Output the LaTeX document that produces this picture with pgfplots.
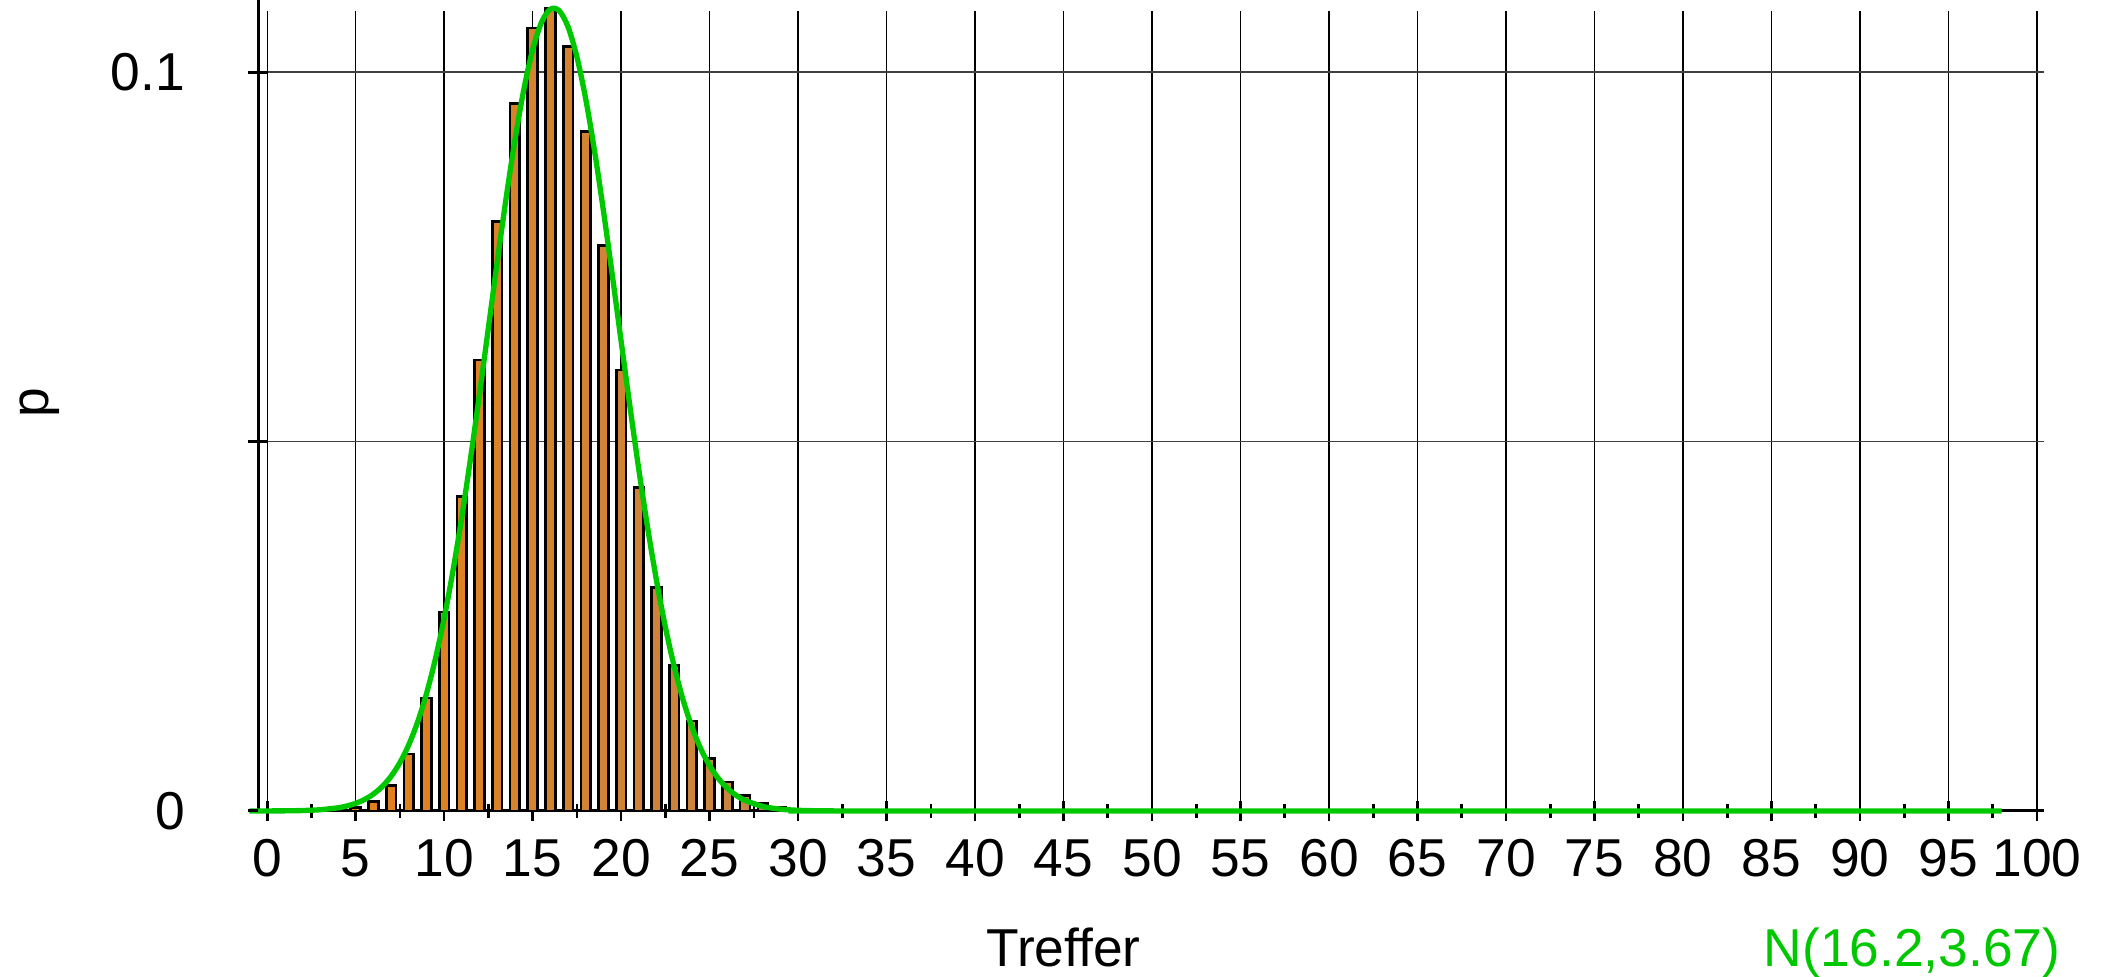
\documentclass[border=0pt]{standalone}
\usepackage{fontspec}
\setmainfont{Liberation Sans}
\usepackage{pgfplots}
\pgfplotsset{compat=1.18}
\definecolor{cA}{RGB}{228,128,26}
\definecolor{cB}{RGB}{196,133,70}
\definecolor{gr}{RGB}{0,200,0}
\begin{document}
\begin{tikzpicture}
\useasboundingbox (-77.5pt,-49.8pt) rectangle (554.0pt,243.3pt);
\begin{axis}[
  at={(0pt,0pt)}, anchor=south west,
  scale only axis, width=535.7pt, height=240pt,
  xmin=-0.5, xmax=100.4, ymin=0, ymax=0.1083,
  axis lines*=left,
  axis line style={line width=0.9pt, black},
  clip=false,
  font=\fontsize{16}{19}\selectfont,
  /pgf/number format/assume math mode=true,
  xtick={0,5,...,100},
  minor xtick={2.5,7.5,...,97.5},
  ytick={0,0.05,0.1},
  yticklabels={0,,0.1},
  tick align=center,
  major tick length=6pt,
  minor tick length=4pt,
  tick style={black, line width=0.8pt},
  xmajorgrids, ymajorgrids,
  x grid style={black, line width=0.4pt},
  y grid style={black!75, line width=0.5pt},
  xticklabel style={yshift=-2pt},
  yticklabel style={xshift=-15.5pt},
]
\addplot[ybar, bar shift=0pt, bar width=0.55, draw=black, line width=0.8pt, fill=cB!0!cA] coordinates {(5,0.00043107)};
\addplot[ybar, bar shift=0pt, bar width=0.55, draw=black, line width=0.8pt, fill=cB!4!cA] coordinates {(6,0.00132195)};
\addplot[ybar, bar shift=0pt, bar width=0.55, draw=black, line width=0.8pt, fill=cB!8!cA] coordinates {(7,0.00343707)};
\addplot[ybar, bar shift=0pt, bar width=0.55, draw=black, line width=0.8pt, fill=cB!12!cA] coordinates {(8,0.0077334)};
\addplot[ybar, bar shift=0pt, bar width=0.55, draw=black, line width=0.8pt, fill=cB!16!cA] coordinates {(9,0.0152950)};
\addplot[ybar, bar shift=0pt, bar width=0.55, draw=black, line width=0.8pt, fill=cB!20!cA] coordinates {(10,0.0269192)};
\addplot[ybar, bar shift=0pt, bar width=0.55, draw=black, line width=0.8pt, fill=cB!24!cA] coordinates {(11,0.0425813)};
\addplot[ybar, bar shift=0pt, bar width=0.55, draw=black, line width=0.8pt, fill=cB!28!cA] coordinates {(12,0.0610332)};
\addplot[ybar, bar shift=0pt, bar width=0.55, draw=black, line width=0.8pt, fill=cB!32!cA] coordinates {(13,0.0798127)};
\addplot[ybar, bar shift=0pt, bar width=0.55, draw=black, line width=0.8pt, fill=cB!36!cA] coordinates {(14,0.0957752)};
\addplot[ybar, bar shift=0pt, bar width=0.55, draw=black, line width=0.8pt, fill=cB!40!cA] coordinates {(15,0.105991)};
\addplot[ybar, bar shift=0pt, bar width=0.55, draw=black, line width=0.8pt, fill=cB!44!cA] coordinates {(16,0.108641)};
\addplot[ybar, bar shift=0pt, bar width=0.55, draw=black, line width=0.8pt, fill=cB!48!cA] coordinates {(17,0.103528)};
\addplot[ybar, bar shift=0pt, bar width=0.55, draw=black, line width=0.8pt, fill=cB!52!cA] coordinates {(18,0.092025)};
\addplot[ybar, bar shift=0pt, bar width=0.55, draw=black, line width=0.8pt, fill=cB!56!cA] coordinates {(19,0.076526)};
\addplot[ybar, bar shift=0pt, bar width=0.55, draw=black, line width=0.8pt, fill=cB!60!cA] coordinates {(20,0.059690)};
\addplot[ybar, bar shift=0pt, bar width=0.55, draw=black, line width=0.8pt, fill=cB!64!cA] coordinates {(21,0.043773)};
\addplot[ybar, bar shift=0pt, bar width=0.55, draw=black, line width=0.8pt, fill=cB!68!cA] coordinates {(22,0.030243)};
\addplot[ybar, bar shift=0pt, bar width=0.55, draw=black, line width=0.8pt, fill=cB!72!cA] coordinates {(23,0.019724)};
\addplot[ybar, bar shift=0pt, bar width=0.55, draw=black, line width=0.8pt, fill=cB!76!cA] coordinates {(24,0.012163)};
\addplot[ybar, bar shift=0pt, bar width=0.55, draw=black, line width=0.8pt, fill=cB!80!cA] coordinates {(25,0.0071032)};
\addplot[ybar, bar shift=0pt, bar width=0.55, draw=black, line width=0.8pt, fill=cB!84!cA] coordinates {(26,0.0039341)};
\addplot[ybar, bar shift=0pt, bar width=0.55, draw=black, line width=0.8pt, fill=cB!88!cA] coordinates {(27,0.0020690)};
\addplot[ybar, bar shift=0pt, bar width=0.55, draw=black, line width=0.8pt, fill=cB!92!cA] coordinates {(28,0.0010345)};
\addplot[ybar, bar shift=0pt, bar width=0.55, draw=black, line width=0.8pt, fill=cB!96!cA] coordinates {(29,0.00049228)};
\addplot[ybar, bar shift=0pt, bar width=0.55, draw=black, line width=0.8pt, fill=cB!100!cA] coordinates {(30,0.00022317)};
\addplot[gr, line width=1.6pt, smooth, mark=none] coordinates {
(-1,0.0000019) (0,0.0000064) (1,0.0000205) (2,0.000061) (3,0.000169) (4,0.000433) (4.5,0.000675)
(5,0.001033) (5.5,0.001551) (6,0.002286) (6.5,0.003306) (7,0.004694) (7.5,0.006546)
(8,0.008960) (8.5,0.012034) (9,0.015867) (9.5,0.020534) (10,0.026089) (10.5,0.032543)
(11,0.039839) (11.5,0.047875) (12,0.056473) (12.5,0.065397) (13,0.074330) (13.5,0.082930)
(14,0.090828) (14.5,0.097646) (15,0.103046) (15.5,0.106745) (16,0.108543) (16.5,0.108341)
(17,0.106152) (17.5,0.102094) (18,0.096385) (18.5,0.089322) (19,0.081253) (19.5,0.072557)
(20,0.063599) (20.5,0.054720) (21,0.046217) (21.5,0.038317) (22,0.031182) (22.5,0.024907)
(23,0.019532) (23.5,0.015036) (24,0.011363) (24.5,0.008426) (25,0.006136) (25.5,0.004384)
(26,0.003075) (26.5,0.002118) (27,0.001432) (28,0.000619) (29,0.000248) (30,0.000093)
(31,0.000032) (32,0.000010) (34,0) (98,0)
};
\draw[line width=0.9pt] (axis cs:-1.1,0) -- (axis cs:-0.5,0);
\draw[line width=0.9pt] (axis cs:-0.5,0.1083) -- (axis cs:-0.5,0.1098);
\end{axis}
\node[anchor=base, font=\fontsize{16}{19}\selectfont] at (241.6pt,-46.8pt) {Treffer};
\node[anchor=base east, inner sep=0pt, text=gr, font=\fontsize{16}{19}\selectfont] at (540.8pt,-46.8pt) {N(16.2,3.67)};
\node[rotate=90, font=\fontsize{16}{19}\selectfont] at (-65.5pt,122.4pt) {p};
\end{tikzpicture}
\end{document}
